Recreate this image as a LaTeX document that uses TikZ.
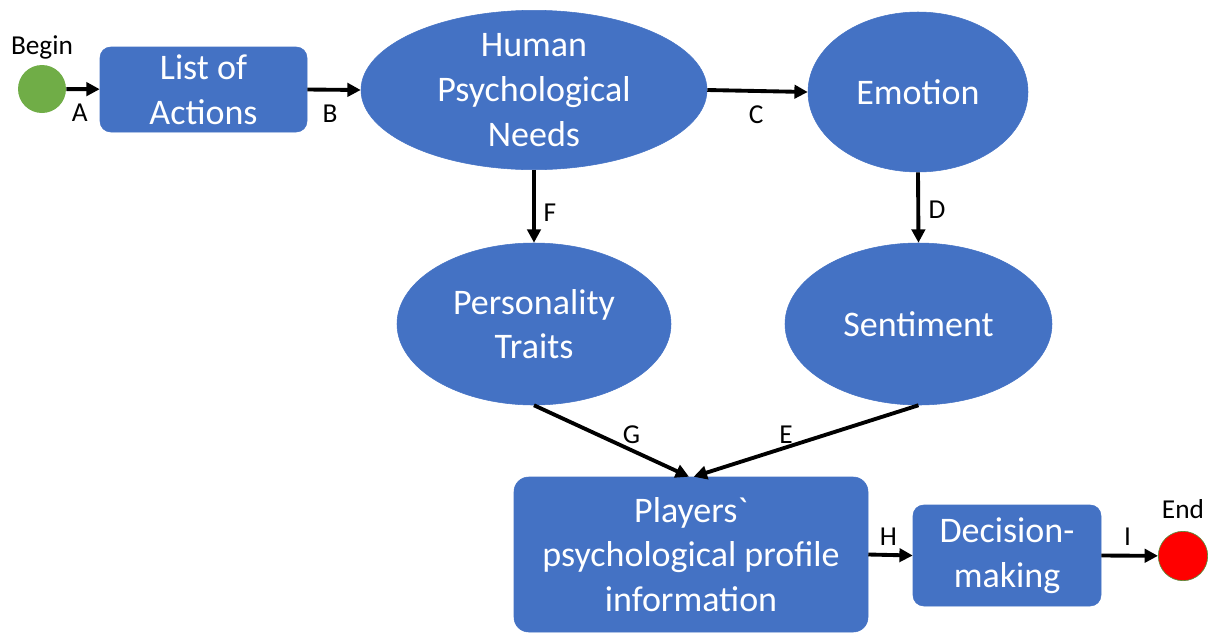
\documentclass[tikz,border=0pt]{standalone}
\usepackage{fontspec}
\setmainfont{Carlito}
\newfontfamily\plainfont{Carlito}[Ligatures=TeXOff]
\usetikzlibrary{shapes.geometric,arrows.meta}
\definecolor{boxblue}{HTML}{4472C4}
\definecolor{startgreen}{HTML}{70AD47}
\definecolor{stopred}{HTML}{FF0000}
\begin{document}
\begin{tikzpicture}[x=0.75pt,y=-0.75pt,
  bigtext/.style={font=\fontsize{27}{33.5}\selectfont, text=white, align=center},
  rbox/.style={bigtext, rectangle, rounded corners=8pt, fill=boxblue, draw=boxblue, inner sep=0pt},
  oval/.style={bigtext, ellipse, fill=boxblue, draw=boxblue, inner sep=0pt},
  terminal/.style={circle, inner sep=0pt},
  small/.style={font=\fontsize{20.5}{24}\selectfont, text=black},
  flow/.style={line width=2.9pt, -{Triangle[length=10pt,width=10pt]}},
  lbl/.style={small, inner sep=0pt, anchor=center, midway}
]
\useasboundingbox (0,0) rectangle (1208,633);

% start and end markers
\node[terminal, fill=startgreen, minimum size=36pt] (begin) at (42,89) {};
\node[small, inner sep=0pt] (begintxt) at (42,47) {Begin};
\node[terminal, fill=stopred, draw=startgreen!80!black, line width=0.5pt, minimum size=37pt] (end) at (1183,556) {};
\node[small, inner sep=0pt] (endtxt) at (1183,509) {End};

% process boxes
\node[rbox, minimum width=155.25pt, minimum height=63.75pt] (list) at (203.5,89.5) {List of\\Actions};
\node[rbox, rounded corners=11pt, minimum width=265.5pt, minimum height=116.25pt] (players) at (691,554.5) {Players{\plainfont`}\\psychological profile\\information};
\node[rbox, minimum width=141pt, minimum height=75.75pt] (decision) at (1007,555.5) {Decision-\\making};

% states
\node[oval, minimum width=259.5pt, minimum height=112.5pt] (needs) at (534,90) {Human\\Psychological\\Needs};
\node[oval, minimum width=165pt, minimum height=120pt] (emotion) at (918,92) {Emotion};
\node[oval, minimum width=205.5pt, minimum height=121.5pt] (traits) at (534,324) {Personality\\Traits};
\node[oval, minimum width=200.25pt, minimum height=121.5pt] (sentiment) at (918.5,324) {Sentiment};

% connectors
\draw[flow] (begin) -- node[lbl, xshift=-2.5pt, yshift=-18pt] {A} (list);
\draw[flow] (list.east) -- node[lbl, xshift=-3pt, yshift=-18pt] {B} (needs.west);
\draw[flow] (needs.east) -- node[lbl, xshift=-1pt, yshift=-18pt] {C} (emotion.west);
\draw[flow] (needs.south) -- node[lbl, xshift=12pt, yshift=-4.5pt] {F} (traits.north);
\draw[flow] (emotion.south) -- node[lbl, xshift=14pt, yshift=-2pt] {D} (sentiment.north);
\draw[flow] (traits.south) -- node[lbl, xshift=15pt, yshift=5pt] {G} ([xshift=-1.5pt]players.north);
\draw[flow] (sentiment.south) -- node[lbl, xshift=-15pt, yshift=5pt] {E} ([xshift=2pt]players.north);
\draw[flow] (players.east) -- node[lbl, xshift=-1.5pt, yshift=14pt] {H} (decision.west);
\draw[flow] (decision.east) -- node[lbl, xshift=-1.5pt, yshift=14pt] {I} (end);
\end{tikzpicture}
\end{document}
